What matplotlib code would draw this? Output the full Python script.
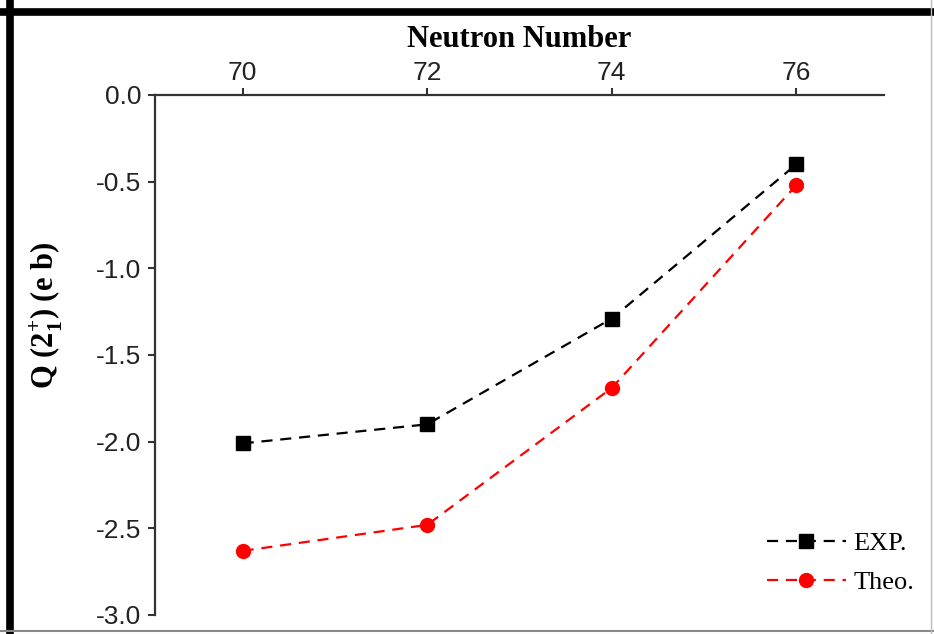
#! /usr/bin/env python3

# Quadrupole moment Q(2_1+) vs neutron number, experiment vs theory

import matplotlib
matplotlib.use("Agg")
import matplotlib.pyplot as plt
from matplotlib.lines import Line2D

# data
neutrons = [70, 72, 74, 76]
q_exp = [-2.01, -1.90, -1.29, -0.40]
q_theo = [-2.63, -2.48, -1.69, -0.52]
xticks = [70, 72, 74, 76]
yticks = [0.0, -0.5, -1.0, -1.5, -2.0, -2.5, -3.0]


def main():
    plt.rcParams["mathtext.fontset"] = "custom"
    plt.rcParams["mathtext.rm"] = "Liberation Serif:bold"
    plt.rcParams["mathtext.bf"] = "Liberation Serif:bold"

    fig = plt.figure(figsize=(9.34, 6.34), dpi=100)
    ax = fig.add_axes([155 / 934, 1 - 615 / 634, (884 - 155) / 934, (615 - 95) / 634])

    ax.plot(neutrons, q_exp, color="black", ls=(0, (5, 3.5)), lw=1.6,
            marker="s", ms=10, label="EXP.")
    ax.plot(neutrons, q_theo, color="red", ls=(0, (5, 3.5)), lw=1.6,
            marker="o", ms=10, label="Theo.")

    ax.set_xlim(69.05, 76.95)
    ax.set_ylim(-3.0, 0.0)

    # x axis lives on top, no bottom/right spines
    ax.xaxis.tick_top()
    ax.xaxis.set_label_position("top")
    ax.spines["bottom"].set_visible(False)
    ax.spines["right"].set_visible(False)
    for s in ("top", "left"):
        ax.spines[s].set_linewidth(1.6)
        ax.spines[s].set_color("#333333")

    ax.set_xticks(xticks)
    ax.set_yticks(yticks)
    ax.set_yticklabels(["{0:.1f}".format(v) for v in yticks])
    ax.tick_params(axis="both", direction="out", length=5, width=1.5,
                   color="#333333", labelsize=19, labelcolor="#222222",
                   labelfontfamily="Liberation Sans")
    ax.tick_params(axis="x", pad=2)
    ax.tick_params(axis="y", pad=5)

    ax.set_xlabel("Neutron Number", fontsize=22, fontweight="bold",
                  family="Liberation Serif", labelpad=10)
    fig.text(46 / 934, 1 - 315 / 634, r"Q (2$_{1}^{+}$) (e b)", rotation=90,
             ha="center", va="center", fontsize=22, fontweight="bold",
             family="Liberation Serif")

    ax.legend(loc="upper left", bbox_to_anchor=(756 / 934, 1 - 521 / 634),
              bbox_transform=fig.transFigure, borderaxespad=0, frameon=False,
              prop={"family": "Liberation Serif", "size": 19},
              handlelength=3.0, handletextpad=0.3, labelspacing=0.6)

    # outer frame of the original picture
    fig.add_artist(Line2D([0, 1], [1 - 11.5 / 634] * 2, transform=fig.transFigure,
                          color="black", lw=5.5))
    fig.add_artist(Line2D([10 / 934] * 2, [0, 1], transform=fig.transFigure,
                          color="black", lw=5.5))
    fig.add_artist(Line2D([0, 1], [1 - 630.5 / 634] * 2, transform=fig.transFigure,
                          color="#888888", lw=1.5))
    fig.add_artist(Line2D([931 / 934] * 2, [0, 1], transform=fig.transFigure,
                          color="#bbbbbb", lw=1.0))

    fig.savefig("out.png", dpi=100)


if __name__ == "__main__":
    main()
